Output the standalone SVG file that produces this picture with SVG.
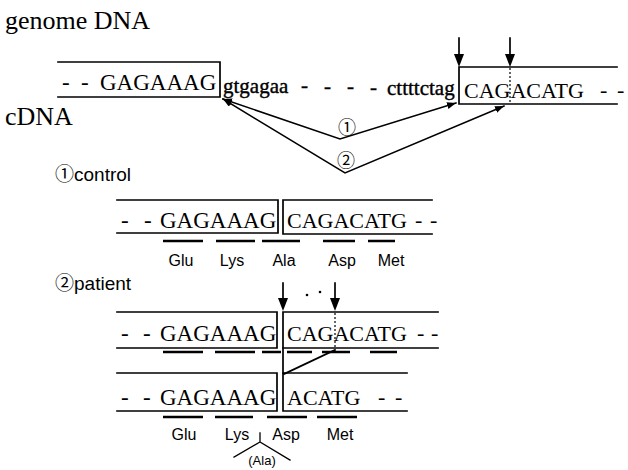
<svg xmlns="http://www.w3.org/2000/svg" width="628" height="470" viewBox="0 0 628 470">
<style>
.bg{fill:#fff}
.ln{stroke:#000;stroke-width:1.7;fill:none;stroke-linecap:square}
.dot{stroke:#000;stroke-width:1.2;fill:none;stroke-dasharray:2,2}
.bar{stroke:#000;stroke-width:2.6;fill:none}
.seq{font-family:"Liberation Serif","Times New Roman",serif;font-size:23px;fill:#000}
.seq2{font-family:"Liberation Serif","Times New Roman",serif;font-size:22px;fill:#000}
.intr{font-family:"Liberation Serif","Times New Roman",serif;font-size:21px;fill:#000;stroke:#000;stroke-width:0.4}
.title{font-family:"Liberation Serif","Times New Roman",serif;font-size:26px;fill:#000}
.lab{font-family:"Liberation Sans",Arial,"Noto Sans CJK JP",sans-serif;font-size:19px;fill:#000}
.aa{font-family:"Liberation Sans",Arial,sans-serif;font-size:16px;fill:#000;text-anchor:middle}
.cn{font-family:"Noto Sans CJK JP","Noto Sans CJK SC",sans-serif;font-size:18px;fill:#000;text-anchor:middle;dominant-baseline:central}
.ah{fill:#000}
</style>
<defs>
<marker id="sa" markerUnits="userSpaceOnUse" markerWidth="10" markerHeight="8" refX="9" refY="3.5" orient="auto-start-reverse">
<path d="M0,0 L9,3.5 L0,7 z" fill="#000"/>
</marker>
</defs>
<rect class="bg" x="0" y="0" width="628" height="470"/>

<g id="titles">
<text class="title" x="5" y="29">genome DNA</text>
<text class="title" x="5" y="125">cDNA</text>
</g>

<g id="genome">
<path class="ln" d="M58,62 H220 V97 H58"/>
<text class="seq"><tspan x="62" y="90">- </tspan><tspan x="81" y="90">- </tspan><tspan x="100" y="90">GAGAAAG</tspan></text>
<text class="intr" x="223" y="93">gtgagaa</text>
<text class="intr"><tspan x="301" y="92">- </tspan><tspan x="324" y="93">- </tspan><tspan x="347" y="93">- </tspan><tspan x="370" y="94">- </tspan><tspan x="387" y="95">cttttctag</tspan></text>
<path class="ln" d="M617,67 H459 V104 H617"/>
<line class="dot" x1="510" y1="68" x2="510" y2="103"/>
<text class="seq2"><tspan x="464" y="98">CAGACATG</tspan><tspan x="600" y="97">- </tspan><tspan x="617" y="97">-</tspan></text>
<line class="ln" x1="459" y1="38" x2="459" y2="56"/>
<polygon class="ah" points="454,54 464,54 459,67"/>
<line class="ln" x1="510" y1="38" x2="510" y2="56"/>
<polygon class="ah" points="505,54 515,54 510,67"/>
</g>

<g id="connectors">
<polyline class="ln" points="223,99 340,139 456,103" marker-start="url(#sa)" marker-end="url(#sa)" style="stroke-width:1.5"/>
<polyline class="ln" points="223,99 345,173 504,106" marker-start="url(#sa)" marker-end="url(#sa)" style="stroke-width:1.5"/>
<text class="cn" x="347" y="126">①</text>
<text class="cn" x="346" y="159">②</text>
</g>

<g id="control">
<text class="lab" x="55" y="181">①control</text>
<path class="ln" d="M117,200 H278 V233 H117"/>
<path class="ln" d="M432,200 H283 V234 H432"/>
<text class="seq"><tspan x="121" y="228">- </tspan><tspan x="144" y="228">- </tspan><tspan x="160" y="228">GAGAAAG</tspan></text>
<text class="seq2"><tspan x="287" y="228">CAGACATG</tspan><tspan x="415" y="227">- </tspan><tspan x="430" y="227">-</tspan></text>
<path class="bar" d="M163,241 H203 M216,241 H255 M262,241 H300 M323,241 H355 M368,241 H395"/>
<text class="aa" x="181" y="266">Glu</text>
<text class="aa" x="232" y="266">Lys</text>
<text class="aa" x="284" y="266">Ala</text>
<text class="aa" x="342" y="266">Asp</text>
<text class="aa" x="391" y="266">Met</text>
</g>

<g id="patient">
<text class="lab" x="55" y="290">②patient</text>
<line class="ln" x1="283" y1="283" x2="283" y2="300"/>
<polygon class="ah" points="278,298 288,298 283,311"/>
<line class="ln" x1="335" y1="283" x2="335" y2="300"/>
<polygon class="ah" points="330,298 340,298 335,311"/>
<circle class="ah" cx="307" cy="295" r="1.3"/>
<circle class="ah" cx="320" cy="292" r="1.3"/>
<path class="ln" d="M117,312 H277 V348 H117"/>
<path class="ln" d="M438,312 H283 V411 H407"/>
<line class="ln" x1="283" y1="348" x2="438" y2="348"/>
<line class="dot" x1="335" y1="313" x2="335" y2="347"/>
<text class="seq"><tspan x="121" y="341">- </tspan><tspan x="143" y="341">- </tspan><tspan x="160" y="341">GAGAAAG</tspan></text>
<text class="seq2"><tspan x="287" y="341">CAGACATG</tspan><tspan x="417" y="340">- </tspan><tspan x="431" y="340">-</tspan></text>
<path class="bar" d="M163,352 H203 M215,352 H255 M262,352 H281 M287,352 H312 M322,352 H350 M370,352 H397"/>
<line class="ln" x1="335" y1="350" x2="284" y2="374"/>
<path class="ln" d="M117,373 H277 V411 H117"/>
<line class="ln" x1="283" y1="373" x2="407" y2="373"/>
<text class="seq"><tspan x="121" y="405">- </tspan><tspan x="143" y="405">- </tspan><tspan x="160" y="405">GAGAAAG</tspan></text>
<text class="seq2"><tspan x="287" y="405">ACATG</tspan><tspan x="378" y="404">- </tspan><tspan x="395" y="404">-</tspan></text>
<path class="bar" d="M163,417 H203 M215,417 H253 M267,417 H307 M317,417 H357"/>
<text class="aa" x="184" y="440">Glu</text>
<text class="aa" x="237" y="440">Lys</text>
<text class="aa" x="286" y="440">Asp</text>
<text class="aa" x="340" y="440">Met</text>
<path class="ln" d="M260,433 V442 M234,457 L260,442 L290,460" style="stroke-width:1.3"/>
<text class="aa" x="262" y="465" style="font-size:13px">(Ala)</text>
</g>
</svg>
